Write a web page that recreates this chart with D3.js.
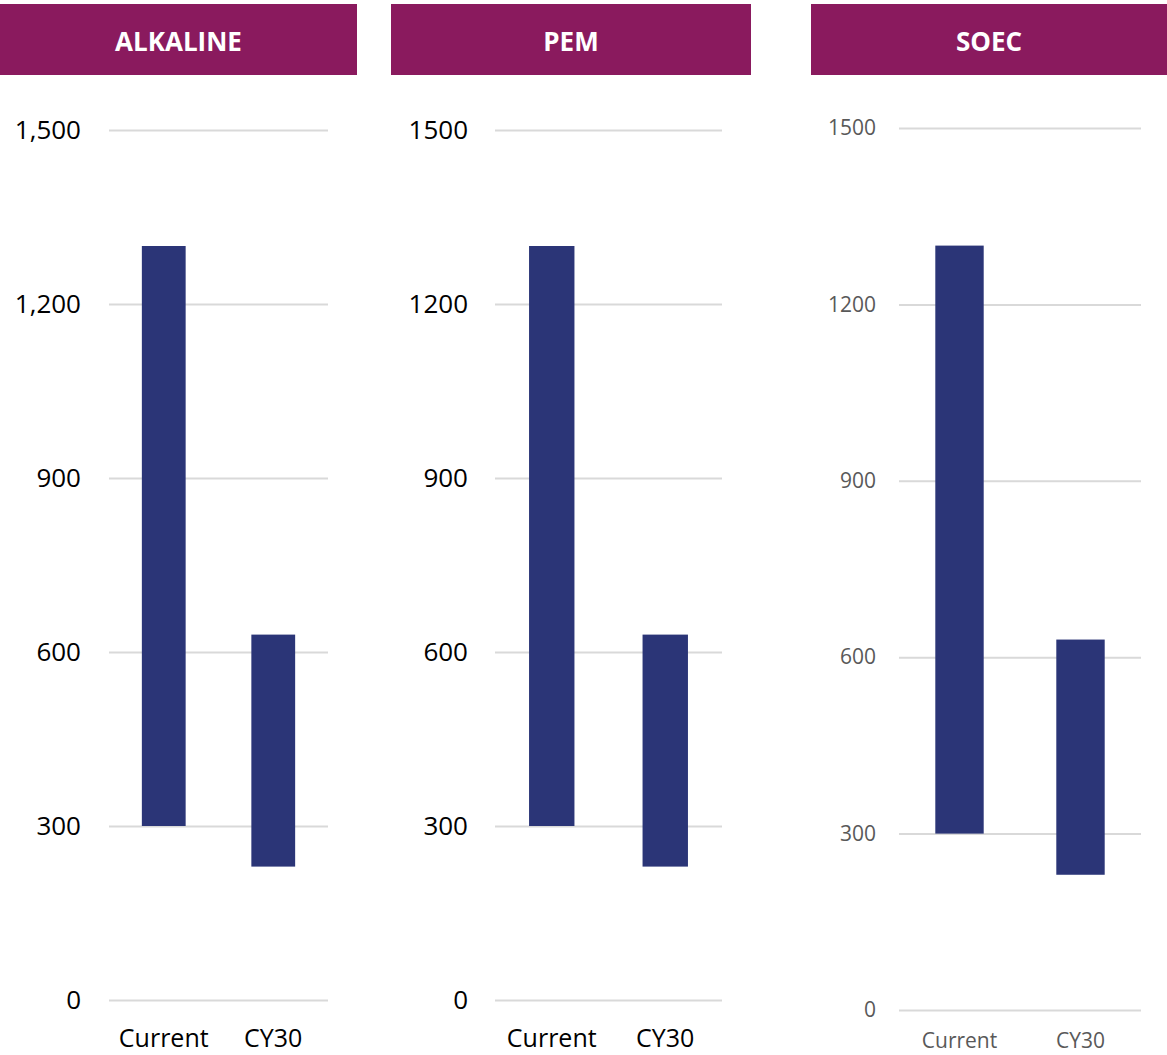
<!DOCTYPE html>
<html>
<head>
<meta charset="utf-8">
<script src="https://cdn.jsdelivr.net/npm/d3@7"></script>
<style>
  html, body { margin: 0; padding: 0; background: #fff; }
  svg { display: block; }
</style>
</head>
<body>
<svg id="chart" width="1167" height="1055"></svg>
<script>
// Electrolyser cost ranges: Current vs CY30, by technology
const technologies = ["ALKALINE", "PEM", "SOEC"];
const categories = ["Current", "CY30"];
const alkalineLow  = [300, 230];
const alkalineHigh = [1300, 630];
const pemLow  = [300, 230];
const pemHigh = [1300, 630];
const soecLow  = [300, 230];
const soecHigh = [1300, 630];
const tickValues = [0, 300, 600, 900, 1200, 1500];

const seriesLow  = [alkalineLow, pemLow, soecLow];
const seriesHigh = [alkalineHigh, pemHigh, soecHigh];

// Per-panel layout and text styling
const panels = [
  { hx0: 0,   hx1: 357,  gx0: 109, gx1: 328,  yTop: 130, yBot: 1000, tickGap: 28,
    tickFmt: d3.format(","), tickSize: 26, tickColor: "#000", catSize: 25, catY: 1047 },
  { hx0: 391, hx1: 751,  gx0: 495, gx1: 722,  yTop: 130, yBot: 1000, tickGap: 27,
    tickFmt: d3.format("d"), tickSize: 26, tickColor: "#000", catSize: 25, catY: 1047 },
  { hx0: 811, hx1: 1167, gx0: 899, gx1: 1141, yTop: 128, yBot: 1010, tickGap: 23,
    tickFmt: d3.format("d"), tickSize: 21, tickColor: "#595959", catSize: 21, catY: 1048 }
];

const headerColor = "#8A1A5E";
const barColor = "#2B3577";
const gridColor = "#D9D9D9";
const font = "'Open Sans', 'Noto Sans', sans-serif";

const svg = d3.select("#chart");

panels.forEach((p, i) => {
  const g = svg.append("g");

  // Header banner
  g.append("rect")
    .attr("x", p.hx0).attr("y", 4)
    .attr("width", p.hx1 - p.hx0).attr("height", 71)
    .attr("fill", headerColor);
  g.append("text")
    .attr("x", (p.hx0 + p.hx1) / 2).attr("y", 41)
    .attr("text-anchor", "middle").attr("dominant-baseline", "central")
    .attr("fill", "#fff").attr("font-family", font)
    .attr("font-weight", 700).attr("font-size", 26)
    .text(technologies[i]);

  const y = d3.scaleLinear().domain([0, 1500]).range([p.yBot, p.yTop]);
  const x = d3.scaleBand().domain(categories).range([p.gx0, p.gx1])
    .paddingInner(0.6).paddingOuter(0.3);

  // Value axis: gridlines and labels
  const yAxis = d3.axisLeft(y).tickValues(tickValues).tickFormat(p.tickFmt)
    .tickSize(-(p.gx1 - p.gx0)).tickPadding(p.tickGap);
  const ya = g.append("g").attr("transform", `translate(${p.gx0},0)`).call(yAxis);
  ya.select(".domain").remove();
  ya.selectAll(".tick line").attr("stroke", gridColor).attr("stroke-width", 2);
  ya.selectAll(".tick text")
    .attr("fill", p.tickColor).attr("font-family", font)
    .attr("font-size", p.tickSize);

  // Category axis labels
  const xAxis = d3.axisBottom(x).tickSize(0).tickPadding(0);
  const xa = g.append("g").attr("transform", `translate(0,${p.catY})`).call(xAxis);
  xa.select(".domain").remove();
  xa.selectAll(".tick text")
    .attr("dy", 0).attr("y", 0)
    .attr("fill", p.tickColor).attr("font-family", font)
    .attr("font-size", p.catSize);

  // Floating range bars
  const rows = categories.map((c, k) => ({ c, lo: seriesLow[i][k], hi: seriesHigh[i][k] }));
  g.selectAll("rect.bar").data(rows).enter().append("rect")
    .attr("class", "bar")
    .attr("x", d => x(d.c))
    .attr("width", x.bandwidth())
    .attr("y", d => y(d.hi))
    .attr("height", d => y(d.lo) - y(d.hi))
    .attr("fill", barColor);
});
</script>
</body>
</html>
